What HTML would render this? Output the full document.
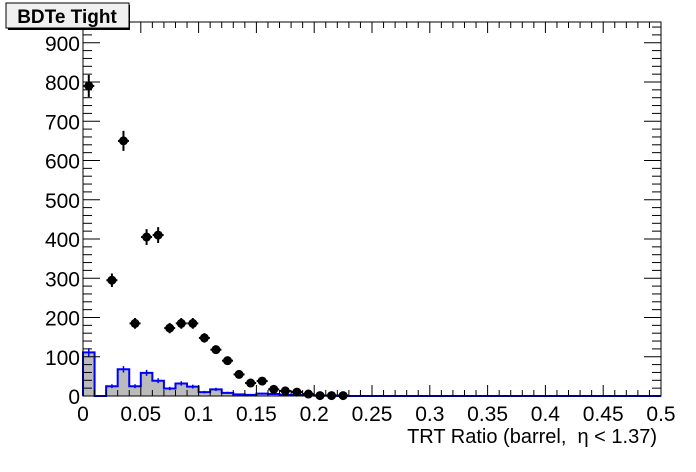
<!DOCTYPE html>
<html><head><meta charset="utf-8"><style>
html,body{margin:0;padding:0;background:#fff;}
svg{display:block;font-family:"Liberation Sans",sans-serif;}
</style></head><body>
<svg id="s" width="696" height="472" viewBox="0 0 696 472" xmlns="http://www.w3.org/2000/svg"></svg>
<script>
var s=document.getElementById('s');
var X0=83,X1=661,Y0=396,YT=22;
function X(v){return X0+v*1156;}
function Y(v){return Y0-v*0.3925;}
var h='';
var hb=[111,0,25,68,25,59,39,19,32,24,10,17,8,4,3,6,5,3,3,2,1,1,0];
var d='M'+X(0)+' '+Y0;
for(var i=0;i<hb.length;i++){d+=' L'+X(i*0.01)+' '+Y(hb[i])+' L'+X((i+1)*0.01)+' '+Y(hb[i]);}
d+=' L'+X(hb.length*0.01)+' '+Y0+' L'+X(0.5)+' '+Y0;
h+='<path d="'+d+' Z" fill="#bbbbbb" stroke="none"/>';
h+='<path d="'+d+'" fill="none" stroke="#0000ff" stroke-width="2"/>';
for(var i=0;i<hb.length;i++){if(hb[i]>0){var e=Math.sqrt(hb[i]);var cx=X(i*0.01+0.005);h+='<line x1="'+cx+'" x2="'+cx+'" y1="'+Y(hb[i]+e)+'" y2="'+Y(hb[i]-e)+'" stroke="#0000ff" stroke-width="1.5"/>';}}
h+='<rect x="'+X0+'" y="'+YT+'" width="'+(X1-X0)+'" height="'+(Y0-YT)+'" fill="none" stroke="#000" stroke-width="1"/>';
for(var k=0;k<=50;k++){var x=X(k*0.01);var L=(k%5==0)?11:6;
h+='<line x1="'+x+'" x2="'+x+'" y1="'+Y0+'" y2="'+(Y0-L)+'" stroke="#000"/>';
h+='<line x1="'+x+'" x2="'+x+'" y1="'+YT+'" y2="'+(YT+L)+'" stroke="#000"/>';}
var xl=['0','0.05','0.1','0.15','0.2','0.25','0.3','0.35','0.4','0.45','0.5'];
for(var k=0;k<xl.length;k++){h+='<text x="'+X(k*0.05)+'" y="421" font-size="21" text-anchor="middle">'+xl[k]+'</text>';}
for(var v=0;v<=950;v+=20){var y=Y(v);if(y<YT)break;var L=(v%100==0)?17:9;
h+='<line x1="'+X0+'" x2="'+(X0+L)+'" y1="'+y+'" y2="'+y+'" stroke="#000"/>';
h+='<line x1="'+X1+'" x2="'+(X1-L)+'" y1="'+y+'" y2="'+y+'" stroke="#000"/>';}
for(var v=0;v<=900;v+=100){h+='<text x="80" y="'+(Y(v)+8)+'" font-size="21" text-anchor="end">'+v+'</text>';}
var pts=[[0.005,790],[0.025,295],[0.035,650],[0.045,185],[0.055,405],[0.065,410],[0.075,173],[0.085,185],[0.095,185],[0.105,148],[0.115,118],[0.125,90],[0.135,55],[0.145,33],[0.155,38],[0.165,17],[0.175,13],[0.185,10],[0.195,5],[0.205,1],[0.215,1],[0.225,1]];
for(var i=0;i<pts.length;i++){var cx=X(pts[i][0]),cy=Y(pts[i][1]),e=Math.sqrt(pts[i][1]);
h+='<line x1="'+cx+'" x2="'+cx+'" y1="'+Y(pts[i][1]+e)+'" y2="'+Math.min(Y0,Y(pts[i][1]-e))+'" stroke="#000" stroke-width="2"/>';
h+='<line x1="'+(cx-5.5)+'" x2="'+(cx+5.5)+'" y1="'+cy+'" y2="'+cy+'" stroke="#000" stroke-width="2"/>';
h+='<circle cx="'+cx+'" cy="'+cy+'" r="4.5" fill="#000"/>';}
h+='<text x="657" y="443" font-size="20" text-anchor="end">TRT Ratio (barrel, &#160;η &lt; 1.37)</text>';
h+='<rect x="8" y="5" width="122" height="25" fill="#000"/>';
h+='<rect x="6" y="3" width="123" height="25" fill="#f0f0f0" stroke="#000" stroke-width="1"/>';
h+='<text x="67" y="23" font-size="19" font-weight="bold" text-anchor="middle">BDTe Tight</text>';
s.innerHTML=h;
</script>
</body></html>
